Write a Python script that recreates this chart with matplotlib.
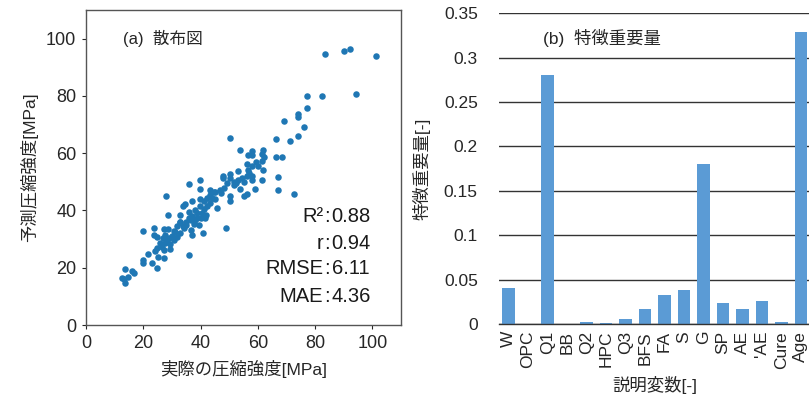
import matplotlib
matplotlib.use("Agg")
import matplotlib.pyplot as plt
import numpy as np

plt.rcParams['font.family'] = ['Liberation Sans', 'Noto Sans CJK JP', 'DejaVu Sans']

# ---- (a) scatter data: actual vs predicted compressive strength [MPa]
actual = [83.3, 90.1, 92.2, 101.2, 94.4, 82.3, 77.2, 77.2, 74.1, 74.1, 69.1, 76.1, 74.1, 71.1,
          66.2, 50.2, 66.3, 68.3, 67.2, 67.2, 72.8, 53.9, 56.4, 58.0, 58.0, 61.7, 61.3, 61.3,
          56.3, 58.0, 60.0, 61.7, 56.4, 53.1, 56.3, 58.0, 61.3, 58.0, 55.1, 53.1, 50.4, 47.8,
          47.8, 50.4, 51.6, 49.2, 51.6, 53.9, 59.0, 56.3, 55.1, 50.4, 50.4, 48.1, 46.7, 45.2,
          39.9, 35.8, 39.9, 27.9, 43.2, 43.2, 45.2, 42.2, 39.9, 41.1, 43.4, 37.0, 34.7, 33.9,
          42.2, 45.8, 39.9, 38.2, 41.1, 38.8, 37.0, 28.8, 32.9, 35.8, 38.8, 41.7, 34.9, 32.9,
          37.6, 39.3, 31.7, 34.1, 36.8, 32.9, 40.8, 49.0, 37.0, 27.1, 28.8, 30.6, 23.6, 23.6,
          24.7, 19.8, 27.7, 30.0, 26.9, 28.3, 26.0, 27.7, 29.4, 26.5, 24.7, 24.2, 27.1, 21.8,
          25.3, 27.1, 35.8, 19.8, 19.8, 23.0, 24.7, 13.7, 16.0, 16.9, 14.8, 12.5, 13.7, 13.3,
          30.6, 31.7, 29.4, 36.5, 38.0, 40.5, 42.0, 44.0, 35.0, 33.0, 31.0, 29.0, 44.8, 47.0,
          52.5, 54.5, 57.0, 59.5, 62.0, 40.0, 36.0, 34.0]
predicted = [94.8, 95.8, 96.5, 94.1, 80.8, 80.0, 80.0, 75.8, 73.8, 72.8, 71.4, 69.0, 66.1, 64.3,
             65.0, 65.4, 58.6, 58.6, 51.7, 47.0, 45.7, 61.1, 59.4, 60.6, 59.4, 61.1, 59.6, 57.3,
             56.3, 55.6, 55.6, 54.2, 54.2, 53.8, 52.1, 52.1, 50.7, 50.5, 50.1, 50.7, 52.8, 52.1,
             51.3, 51.3, 50.1, 49.5, 49.0, 47.4, 47.4, 45.8, 44.9, 44.9, 43.4, 47.9, 47.0, 46.6,
             50.7, 49.3, 47.4, 44.9, 47.0, 45.5, 43.9, 44.3, 43.9, 43.2, 42.5, 43.2, 42.4, 41.4,
             41.4, 40.8, 41.4, 40.2, 40.4, 39.0, 38.1, 38.5, 38.5, 37.3, 37.3, 37.3, 36.1, 35.8,
             35.3, 35.0, 34.4, 33.8, 33.2, 32.1, 32.1, 33.8, 31.5, 33.5, 33.5, 33.0, 33.8, 31.5,
             30.7, 32.9, 31.5, 31.1, 30.3, 29.8, 28.8, 28.6, 28.4, 27.4, 26.8, 26.0, 26.2, 24.8,
             23.9, 23.3, 24.5, 22.7, 21.8, 21.6, 19.8, 19.5, 19.0, 18.3, 16.7, 16.3, 14.8, 16.0,
             29.8, 30.7, 26.6, 36.5, 36.8, 39.0, 38.5, 44.5, 34.8, 36.0, 32.5, 30.5, 46.5, 46.0,
             49.5, 51.5, 53.0, 57.0, 58.5, 37.5, 39.5, 34.5]
stat_names = ["R²", "r", "RMSE", "MAE"]
stat_values = ["0.88", "0.94", "6.11", "4.36"]
xy_ticks = [0, 20, 40, 60, 80, 100]

# ---- (b) feature importance
features = ["W", "OPC", "Q1", "BB", "Q2", "HPC", "Q3", "BFS", "FA", "S", "G", "SP", "AE",
            "'AE", "Cure", "Age"]
importance = [0.040, 0.0005, 0.280, 0.0005, 0.002, 0.001, 0.006, 0.017, 0.033, 0.038, 0.180,
              0.024, 0.017, 0.026, 0.002, 0.329]
imp_ticks = [0, 0.05, 0.1, 0.15, 0.2, 0.25, 0.3, 0.35]
imp_ticklabels = ["0", "0.05", "0.1", "0.15", "0.2", "0.25", "0.3", "0.35"]

W, H = 809, 398
fig = plt.figure(figsize=(W / 100, H / 100), dpi=100)

# ---------------- panel (a)
ax1 = fig.add_axes([86 / W, 1 - 325 / H, (401 - 86) / W, (325 - 10) / H])
ax1.scatter(actual, predicted, s=22, color='#1f77b4', linewidths=0, zorder=3)
ax1.set_xlim(0, 110)
ax1.set_ylim(0, 110)
ax1.set_xticks(xy_ticks)
ax1.set_yticks(xy_ticks)
ax1.tick_params(labelsize=13, colors='#262626', length=3, width=0.8, pad=4)
for sp in ax1.spines.values():
    sp.set_color('#555555')
    sp.set_linewidth(1.0)
ax1.set_xlabel("実際の圧縮強度[MPa]", fontsize=12.5, color='#262626', labelpad=6)
ax1.set_ylabel("予測圧縮強度[MPa]", fontsize=12.5, color='#262626', labelpad=6)
ax1.text(13, 100, "(a)  散布図", fontsize=12, color='#262626', va='center', ha='left')
ys = [37.8, 28.3, 19.6, 10.1]
for name, val, yv in zip(stat_names, stat_values, ys):
    ax1.text(82.8, yv, name, fontsize=14.5, ha='right', va='center', color='#1a1a1a')
    ax1.text(84.0, yv, ":", fontsize=14.5, ha='center', va='center', color='#1a1a1a')
    ax1.text(85.8, yv, val, fontsize=14.5, ha='left', va='center', color='#1a1a1a')

# ---------------- panel (b)
left2 = 498.7 / W
ax2 = fig.add_axes([left2, 1 - 324 / H, (498.7 + 312) / W - left2, (324 - 13.3) / H])
xpos = np.arange(len(features))
ax2.bar(xpos, importance, width=0.65, color='#5B9BD5', zorder=3)
ax2.set_xlim(-0.5, len(features) - 0.5)
ax2.set_ylim(0, 0.35)
ax2.set_yticks(imp_ticks)
ax2.set_yticklabels(imp_ticklabels)
ax2.set_xticks(xpos)
ax2.set_xticklabels(features, rotation=90)
ax2.yaxis.grid(True, color='#333333', linewidth=1.0, zorder=0)
ax2.set_axisbelow(True)
for k in ['left', 'right', 'top']:
    ax2.spines[k].set_visible(False)
ax2.spines['bottom'].set_color('#333333')
ax2.spines['bottom'].set_linewidth(1.0)
ax2.spines['bottom'].set_zorder(4)
ax2.tick_params(axis='both', length=0, labelsize=12.5, colors='#262626')
ax2.tick_params(axis='y', pad=15)
ax2.tick_params(axis='x', pad=5)
ax2.set_ylabel("特徴重要量[-]", fontsize=12.5, color='#262626', labelpad=10)
ax2.set_xlabel("説明変数[-]", fontsize=12.5, color='#262626', labelpad=5)
ax2.text(1.75, 0.322, "(b)  特徴重要量", fontsize=12.5, color='#262626', va='center', ha='left')

fig.savefig("out.png", dpi=100)
